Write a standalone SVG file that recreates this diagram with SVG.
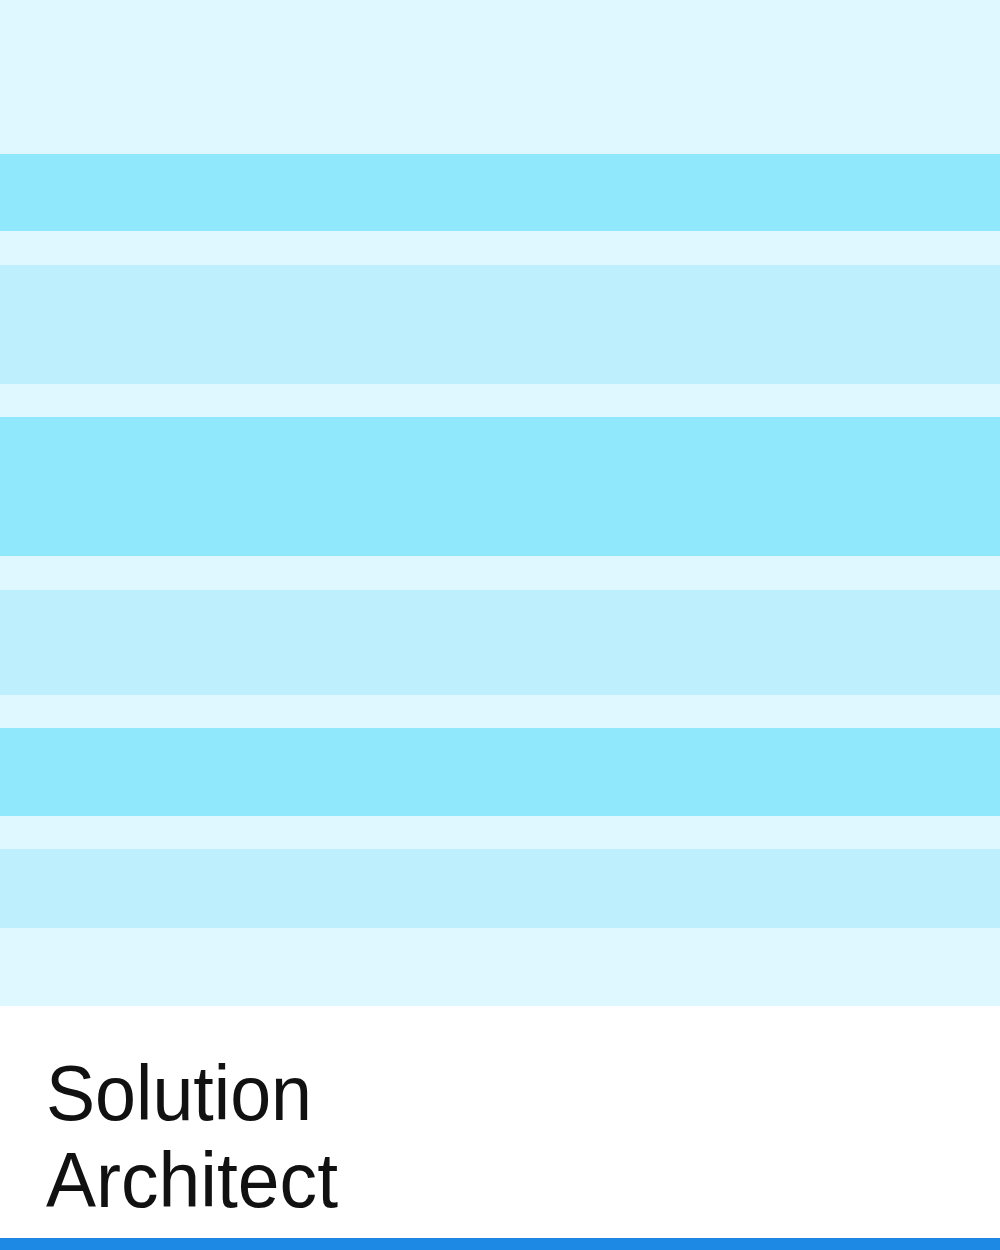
<svg xmlns="http://www.w3.org/2000/svg" width="1000" height="1250" viewBox="0 0 1000 1250">
<style>
.l{fill:#DFF7FE}.d{fill:#90E8FC}.m{fill:#BDF0FC}
.t{font-family:"Liberation Sans",Arial,sans-serif;font-size:78px;fill:#111111}
</style>
<rect class="l" x="0" y="0" width="1000" height="1006"/>
<rect class="d" x="0" y="154" width="1000" height="77"/>
<rect class="m" x="0" y="265" width="1000" height="119"/>
<rect class="d" x="0" y="417" width="1000" height="139"/>
<rect class="m" x="0" y="590" width="1000" height="105"/>
<rect class="d" x="0" y="728" width="1000" height="88"/>
<rect class="m" x="0" y="849" width="1000" height="79"/>
<rect fill="#FFFFFF" x="0" y="1006" width="1000" height="232"/>
<rect fill="#1E88E5" x="0" y="1238" width="1000" height="12"/>
<text class="t" x="46" y="1120" textLength="266" lengthAdjust="spacingAndGlyphs">Solution</text>
<text class="t" x="46" y="1207" textLength="292" lengthAdjust="spacingAndGlyphs">Architect</text>
</svg>
